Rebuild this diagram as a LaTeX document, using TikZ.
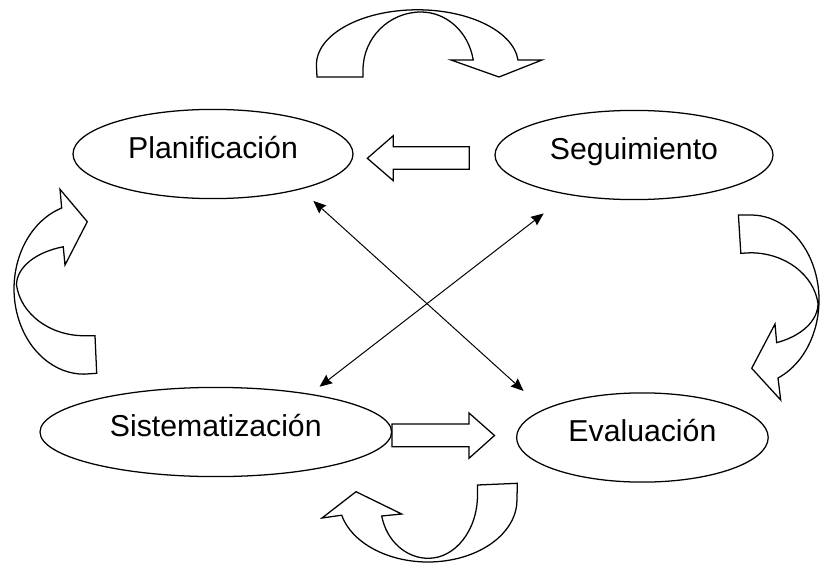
\documentclass[tikz,border=0pt]{standalone}
\usepackage{fontspec}
\setmainfont{Liberation Sans}
\usetikzlibrary{shapes.geometric,arrows.meta}

\begin{document}
\begin{tikzpicture}[
    etapa/.style={draw, ellipse, line width=0.9pt, inner sep=0pt,
      minimum width=#1, minimum height=2.23cm,
      font=\fontsize{21.5}{26}\selectfont, text height=15.4pt, text depth=9.3pt},
    flecha/.style={line width=0.7pt,
      {Stealth[length=9pt,width=7.5pt,inset=1pt]}-{Stealth[length=9pt,width=7.5pt,inset=1pt]}},
    bloque/.style={draw, line width=0.9pt, line join=miter}
  ]
        \useasboundingbox (0,0) rectangle (20.5,14.075);
        % the four stages
        \node[etapa=7cm]    (plan) at (5.325,10.225) {Planificación};
        \node[etapa=6.95cm] (segu) at (15.85,10.2)   {Seguimiento};
        \node[etapa=8.79cm] (sist) at (5.395,3.275)  {Sistematización};
        \node[etapa=6.29cm] (eval) at (16.06,3.1375) {Evaluación};
        % crossed double arrows
        \draw[flecha, shorten <=0.43cm, shorten >=0.68cm] (plan.-22.6) -- (eval.164.7);
        \draw[flecha, shorten <=0.76cm, shorten >=0.29cm] (segu.-149.5) -- (sist.22.2);
        % block arrows
        \draw[bloque] (9.1825,10.1175) -- (9.8325,10.6825) -- (9.8325,10.4075) -- (11.7325,10.4075)
                   -- (11.7325,9.8425) -- (9.8325,9.8425) -- (9.8325,9.5575) -- cycle;
        \draw[bloque] (9.8,3.475) -- (11.725,3.475) -- (11.725,3.75) -- (12.3625,3.1875)
                   -- (11.725,2.6175) -- (11.725,2.9075) -- (9.8,2.9075) -- cycle;
        % curved arrows, top
        \draw[bloque] (7.925,12.15) -- (9.075,12.15) -- (9.075,12.325)
                   arc (180:90:1.45 and 1.45) arc (90:10:1.325 and 1.45)
                   -- (11.275,12.575) -- (12.475,12.15) -- (13.55,12.575) -- (12.95,12.575)
                   arc (5:180:2.525 and 1.375) -- cycle;
        % right
        \draw[bloque] (18.46,8.7) -- (18.52,7.7425) -- (18.7625,7.755)
                   arc (90:7:1.7 and 1.4425) arc (0:-67.2:1.6875 and 1.0625)
                   -- (19.375,5.975) -- (18.7925,4.8675) -- (19.5175,4.075) -- (19.45,4.625)
                   arc (-66.6:90:1.7 and 2.125) -- cycle;
        % bottom
        \draw[bloque] (12.9325,1.9925) -- (11.9375,1.95) -- (11.9375,1.7)
                   arc (0:-90:1.23 and 1.5825) arc (-90:-168.1:1.19 and 1.3325)
                   -- (10.0425,1.225) -- (8.9,1.7825) -- (8.05,1.125) -- (8.5425,1.195)
                   arc (194.2:360:2.225 and 1.55) -- cycle;
        % left
        \draw[bloque] (2.4175,4.7425) -- (2.375,5.6825) -- (2.1,5.6825)
                   arc (270:187:1.7 and 1.4425) arc (180:107.9:1.6875 and 1.005)
                   -- (1.625,7.45) -- (2.1825,8.5325) -- (1.5,9.3425) -- (1.5425,8.875)
                   arc (108.6:270:1.75 and 2.1325) -- cycle;
\end{tikzpicture}
\end{document}
